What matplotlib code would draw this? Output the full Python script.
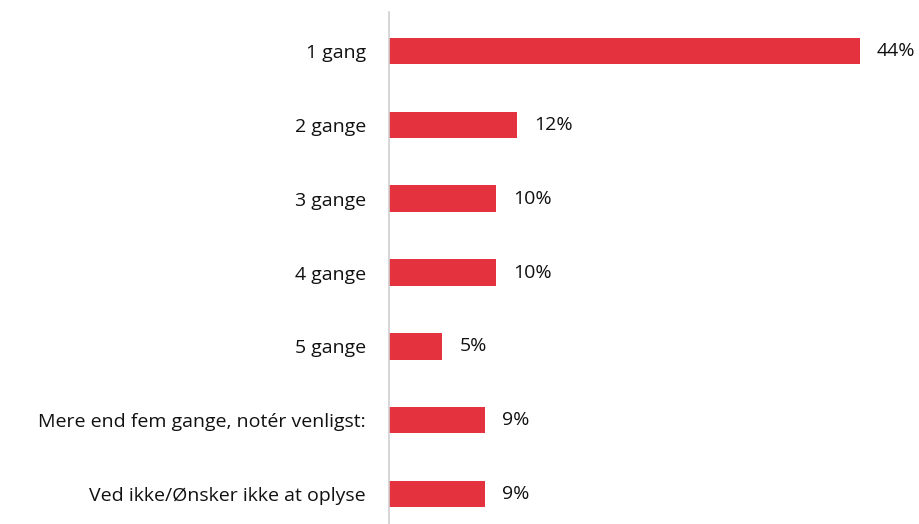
import matplotlib.pyplot as plt

categories = [
    "1 gang",
    "2 gange",
    "3 gange",
    "4 gange",
    "5 gange",
    "Mere end fem gange, notér venligst:",
    "Ved ikke/Ønsker ikke at oplyse",
]
values = [44, 12, 10, 10, 5, 9, 9]
value_labels = ["44%", "12%", "10%", "10%", "5%", "9%", "9%"]

plt.rcParams["font.family"] = ["Open Sans", "DejaVu Sans"]

fig = plt.figure(figsize=(9.2, 5.24), dpi=100)
ax = fig.add_axes([389 / 920, 0, 531 / 920, 1 - 12 / 524])

ypos = list(range(len(categories)))
ax.barh(ypos, values, height=0.36, color="#E5323F")

for y, v, lab in zip(ypos, values, value_labels):
    ax.text(v + 1.6, y, lab, va="center", ha="left", fontsize=14, color="#111111")

ax.set_xlim(0, 531 / 10.7)
ax.set_ylim(6 + 30 / 73.8, -39 / 73.8)
ax.set_yticks(ypos)
ax.set_yticklabels(categories, fontsize=14, color="#111111")
ax.tick_params(axis="y", length=0, pad=16.5)
ax.set_xticks([])

for s in ["top", "right", "bottom"]:
    ax.spines[s].set_visible(False)
ax.spines["left"].set_color("#D0D0D0")
ax.spines["left"].set_linewidth(1.2)

fig.savefig("out.png", dpi=100)
